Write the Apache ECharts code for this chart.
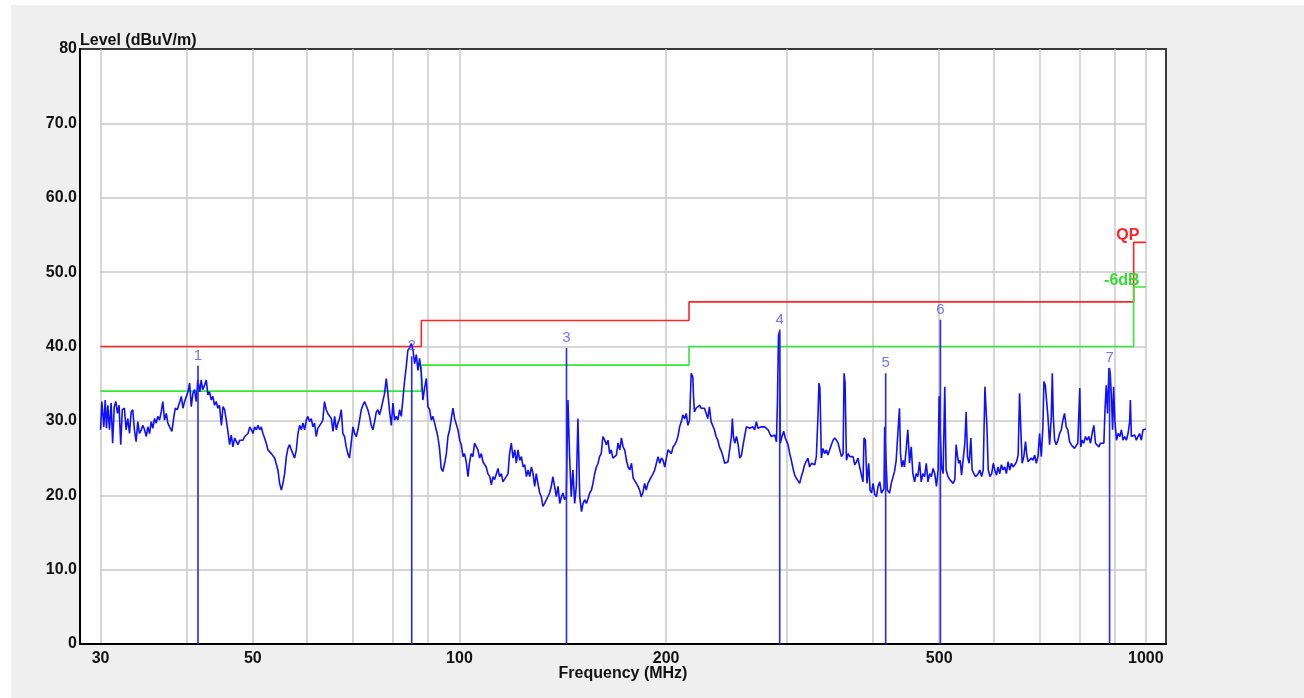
<!DOCTYPE html>
<html>
<head>
<meta charset="utf-8">
<script src="https://cdn.jsdelivr.net/npm/echarts@6/dist/echarts.min.js"></script>
<style>
html, body { margin: 0; padding: 0; background: #ffffff; }
#emiChart {
	position: absolute;
	left: 11px;
	top: 5px;
	width: 1293px;
	height: 693px;
	background: #efefef;
}
</style>
</head>
<body>
<div id="emiChart"></div>
<script>
// axis ticks
const gridFreq = [30, 40, 50, 60, 70, 80, 90, 100, 200, 300, 400, 500, 600, 700, 800, 900, 1000]
const labelFreq = [30, 50, 100, 200, 500, 1000]
const gridLevel = [10, 20, 30, 40, 50, 60, 70]

// limit lines (QP and QP - 6 dB)
const limitFreq = [30, 88, 88, 216, 216, 960, 960, 1000]
const qpLimit = [40, 40, 43.5, 43.5, 46, 46, 54, 54]
const marginLimit = [34, 34, 37.5, 37.5, 40, 40, 48, 48]

// markers
const markerFreq = [41.6, 85.2, 143.2, 292.8, 417.8, 502.0, 885.5]
const markerLevel = [37.4, 38.7, 39.8, 42.3, 36.4, 43.6, 37.1]
const markerName = ["1", "2", "3", "4", "5", "6", "7"]

// measured trace
const traceFreq = [
	30.0, 30.13, 30.33, 30.47, 30.6, 30.74, 30.91, 31.08, 31.24, 31.41, 31.58, 31.75, 31.92, 32.1, 32.27, 32.5,
	32.68, 32.87, 33.06, 33.24, 33.42, 33.61, 33.8, 33.99, 34.18, 34.38, 34.57, 34.77, 34.98, 35.15, 35.36, 35.56,
	35.75, 35.95, 36.16, 36.35, 36.56, 36.77, 36.97, 37.18, 37.4, 37.6, 37.82, 38.11, 38.37, 38.55, 38.81, 38.98,
	39.15, 39.33, 39.55, 39.77, 40.0, 40.22, 40.44, 40.67, 40.89, 41.12, 41.35, 41.57, 41.67, 41.85, 42.04, 42.26,
	42.53, 42.77, 43.0, 43.24, 43.49, 43.72, 43.97, 44.22, 44.45, 44.7, 45.0, 45.23, 45.48, 45.74, 45.99, 46.25,
	46.51, 46.77, 47.04, 47.31, 47.56, 47.84, 48.11, 48.37, 48.65, 48.93, 49.2, 49.48, 49.77, 50.02, 50.3, 50.59,
	50.87, 51.15, 51.44, 51.72, 52.01, 52.3, 52.6, 52.9, 53.2, 53.49, 53.79, 54.09, 54.39, 54.7, 55.02, 55.31,
	55.63, 55.95, 56.25, 56.57, 56.89, 57.2, 57.52, 57.85, 58.17, 58.5, 58.83, 59.15, 59.48, 59.82, 60.14, 60.48,
	60.83, 61.16, 61.5, 61.85, 62.18, 62.53, 62.89, 63.23, 63.59, 63.95, 64.3, 64.66, 65.07, 65.42, 65.79, 66.16,
	66.52, 66.89, 67.27, 67.63, 68.01, 68.39, 68.76, 69.15, 69.54, 69.96,
	70.35, 70.75, 71.13, 71.53, 71.94, 72.32, 72.73, 73.15, 73.54, 73.96, 74.38, 74.8, 75.23, 75.66, 76.06, 76.49,
	76.93, 77.35, 77.79, 78.23, 78.66, 79.11, 79.56, 80.0, 80.46, 80.91, 81.34, 81.8, 82.27, 82.7, 83.17, 83.65,
	84.11, 84.6, 85.09, 85.56, 86.04, 86.53, 87.0, 87.49, 87.99, 88.46, 88.96, 89.47, 89.97, 90.48, 90.99, 91.48,
	92.0, 92.51, 93.0, 93.53, 94.06, 94.57, 95.16, 95.7, 96.22, 96.76, 97.3, 97.84, 98.39, 98.95, 99.5, 100.07,
	100.6, 101.2, 101.7, 102.3, 102.9, 103.4, 104.0, 104.6, 105.2, 105.8, 106.4, 107.0, 107.6, 108.2, 108.8, 109.4,
	110.0, 110.7, 111.3, 111.9, 112.5, 113.2, 113.8, 114.4, 115.1, 115.7, 116.4, 117.0, 117.7, 118.3, 119.0, 119.7,
	120.4, 121.0, 121.7, 122.4, 123.1, 123.8, 124.5, 125.2, 125.9, 126.6, 127.3, 128.0, 128.7, 129.4, 130.1, 130.9,
	131.6, 132.3, 133.1, 133.8, 134.5, 135.3, 136.1, 136.8, 137.6, 138.4, 139.2, 140.0, 140.8, 141.5, 142.3, 143.1,
	143.9, 144.7, 145.5, 146.3, 147.2, 148.0, 148.8, 149.7, 150.6, 151.4, 152.2, 153.1, 154.0, 154.8, 155.7, 156.5,
	157.4, 158.3, 159.2, 160.0, 160.9, 161.8, 162.8, 163.7, 164.6, 165.5, 166.4, 167.3,
	168.3, 169.3, 170.2, 171.2, 172.2, 173.1, 174.1, 175.1, 176.1, 177.1, 178.1, 179.1, 180.0, 181.0, 182.0, 183.0,
	184.0, 185.0, 186.1, 187.1, 188.2, 189.3, 190.4, 191.5, 192.5, 193.6, 194.7, 195.8, 196.9, 198.0, 199.1, 200.2,
	201.3, 202.4, 203.6, 204.7, 205.9, 207.0, 208.1, 209.3, 210.5, 211.6, 212.8, 214.0, 215.2, 216.4, 217.6, 218.8,
	219.3, 220.0, 221.2, 222.4, 223.7, 225.0, 226.2, 227.5, 228.8, 230.0, 231.3, 232.6, 233.9, 235.2, 236.5, 237.9,
	239.2, 240.8, 242.1, 243.5, 244.9, 246.2, 247.6, 249.0, 249.8, 250.7, 251.8, 253.3, 254.7, 256.1, 257.6, 259.0,
	260.3, 261.8, 263.3, 264.7, 266.2, 267.7, 269.2, 270.7, 272.2, 273.8, 275.3, 276.8, 278.4, 280.1, 281.6, 283.2,
	284.8, 286.3, 288.0, 289.6, 290.6, 291.6, 292.6, 293.4, 295.0, 296.7, 298.3,
	299.5, 301.1, 302.8, 304.5, 306.2, 307.9, 309.6, 311.3, 313.1, 314.8, 316.5, 318.3, 320.1, 321.9, 323.7, 325.7,
	327.4, 329.3, 331.1, 332.9, 334.0, 335.1, 336.7, 338.5, 340.4, 342.4, 344.2, 346.2, 348.2, 350.2, 352.2, 354.2,
	356.2, 358.2, 360.2, 362.2, 363.4, 364.6, 366.3, 368.3, 370.4, 372.5, 374.5, 376.6, 378.8, 380.8, 382.9, 385.1,
	387.2, 388.5, 390.3, 392.4, 394.7, 396.5, 398.4, 400.5, 402.8,
	405.1, 407.3, 409.6, 411.9, 414.1, 415.5, 416.4, 417.8, 419.2, 420.1, 421.0, 423.3, 425.7, 428.0, 430.4, 432.8,
	435.2, 437.6, 439.1, 441.0, 443.0, 445.0, 447.5, 450.0, 452.6, 455.2, 457.7, 460.3, 462.9, 465.4, 468.1, 470.7,
	473.4, 476.1, 478.8, 481.5, 484.3, 487.0, 489.8, 492.6, 495.4, 498.2, 499.8, 501.5, 503.9, 506.6, 509.4, 511.7,
	515.1, 518.0, 521.0, 523.9, 526.9, 529.2, 531.7, 534.0, 536.4, 538.9, 541.8, 544.9, 547.3, 549.8, 552.8, 556.0,
	558.4, 561.6, 564.8, 567.3, 569.8, 573.1, 576.4, 579.5, 582.9, 585.4, 586.8, 589.4, 592.8, 596.2, 599.4, 602.4,
	605.9, 609.1, 612.6, 616.0, 619.4, 622.9, 626.4, 629.9, 633.5, 637.1, 640.6, 644.2, 648.0, 651.6, 654.7, 657.5,
	660.4, 664.2, 667.9, 670.8, 673.8, 677.5, 681.3, 685.0, 688.8, 692.6, 696.4, 700.2, 704.2, 708.0, 710.4, 713.7,
	717.5, 720.0, 724.1, 728.2, 730.7, 733.1, 736.4, 740.5, 744.6, 748.8, 753.0, 757.1, 761.3, 765.6, 769.8, 774.2,
	778.5, 782.7, 787.2, 791.6, 795.9, 801.3, 804.0, 807.5, 812.1, 816.7, 821.2, 825.9, 830.6, 835.1, 839.9, 844.7,
	849.1, 854.2, 859.1, 863.8, 868.7, 871.6, 875.5, 879.6, 883.5, 887.4, 891.5, 894.5, 897.6, 901.2, 906.4, 911.2,
	916.4, 921.5, 926.4, 931.7, 936.9, 942.0, 947.3, 949.5, 952.6, 957.8, 963.3, 968.8, 974.0, 979.5, 985.0, 990.5,
	996.1, 1000,
]
const traceLevel = [
	28.8, 32.6, 29.2, 32.8, 29.0, 32.1, 28.8, 32.4, 27.0, 31.9, 32.6, 31.0, 32.1, 26.8, 31.5, 31.7,
	28.8, 30.3, 28.3, 31.2, 31.5, 28.8, 27.2, 29.9, 28.3, 28.8, 29.4, 28.8, 27.9, 29.2, 28.3, 29.9,
	29.0, 30.3, 29.7, 30.6, 30.1, 31.2, 32.6, 30.1, 31.0, 29.7, 29.2, 28.6, 30.6, 31.7, 31.5, 32.1,
	32.6, 33.3, 31.7, 32.6, 32.8, 33.9, 35.1, 31.9, 33.7, 34.2, 32.6, 35.5, 35.3, 33.9, 35.5, 34.2,
	34.8, 35.5, 33.5, 33.9, 32.8, 33.3, 32.1, 32.6, 31.7, 32.1, 29.4, 31.9, 31.5, 30.1, 28.6, 26.8,
	28.1, 26.5, 27.7, 27.2, 26.8, 27.4, 27.2, 27.4, 27.9, 27.7, 28.3, 29.2, 28.8, 28.3, 29.2, 28.8,
	29.4, 28.8, 29.2, 28.3, 27.7, 27.0, 26.1, 26.3, 25.6, 25.4, 25.0, 25.2, 23.4, 21.6, 20.7, 21.6,
	22.9, 25.2, 26.3, 26.8, 26.1, 26.3, 25.0, 26.1, 28.3, 29.4, 28.8, 29.7, 28.8, 30.1, 30.6, 29.9,
	30.3, 29.2, 29.7, 27.9, 29.0, 28.8, 29.7, 30.1, 32.6, 31.5, 31.0, 31.2, 30.3, 28.6, 30.6, 28.8,
	29.7, 30.3, 31.5, 28.3, 27.9, 26.5, 25.6, 25.0, 27.0, 29.2,
	28.3, 27.9, 28.8, 30.1, 31.5, 32.1, 32.6, 32.4, 31.5, 30.6, 29.4, 28.8, 29.9, 31.2, 31.5, 30.8,
	31.7, 31.9, 33.7, 35.7, 33.7, 31.2, 29.4, 32.4, 30.1, 30.6, 30.1, 31.5, 30.6, 32.8, 35.3, 37.3,
	39.5, 39.8, 40.4, 39.5, 37.7, 38.9, 36.8, 38.4, 36.4, 32.8, 34.4, 35.7, 31.9, 31.5, 30.1, 30.6,
	29.7, 28.8, 27.9, 26.3, 23.6, 23.2, 24.3, 25.6, 27.9, 28.8, 30.3, 31.7, 30.3, 30.1, 28.8, 27.4,
	26.8, 25.2, 25.6, 24.5, 22.5, 24.3, 25.6, 25.2, 27.0, 27.2, 26.1, 25.0, 25.6, 24.5, 24.3, 23.8,
	22.9, 22.5, 21.4, 22.5, 22.1, 22.9, 23.6, 22.5, 22.9, 21.8, 21.6, 22.5, 22.9, 25.6, 27.0, 25.0,
	26.1, 24.3, 26.1, 24.7, 25.2, 23.8, 24.1, 22.5, 23.4, 22.5, 23.8, 22.9, 21.2, 22.9, 21.6, 20.3,
	19.8, 18.5, 18.9, 19.1, 19.8, 20.3, 21.2, 22.5, 21.2, 19.8, 21.2, 18.9, 19.8, 20.3, 19.4, 19.8,
	32.8, 25.2, 19.8, 23.4, 18.9, 21.2, 30.3, 19.8, 17.8, 18.9, 19.4, 18.9, 19.6, 20.3, 20.7, 21.6,
	22.9, 23.8, 24.3, 25.2, 25.6, 27.9, 27.4, 26.8, 27.4, 25.6, 26.1, 25.0,
	25.0, 25.4, 27.0, 26.1, 27.7, 26.5, 26.1, 24.7, 23.8, 23.4, 24.3, 22.3, 22.5, 21.6, 21.2, 20.7,
	19.8, 20.3, 21.6, 20.7, 21.6, 21.4, 22.5, 22.9, 23.4, 23.2, 25.2, 24.3, 25.0, 24.7, 23.8, 25.0,
	26.1, 26.3, 25.6, 26.5, 26.8, 27.2, 27.9, 29.2, 29.9, 30.8, 30.3, 31.0, 29.4, 30.1, 36.4, 35.9,
	33.3, 31.2, 31.7, 31.7, 32.1, 31.7, 31.9, 31.7, 31.0, 30.3, 31.9, 29.9, 30.1, 28.8, 27.9, 27.4,
	26.5, 25.9, 25.2, 24.3, 24.1, 24.5, 24.3, 27.9, 30.3, 27.9, 27.0, 27.9, 26.8, 25.0, 25.4, 26.8,
	27.9, 29.2, 29.4, 29.0, 28.8, 29.2, 28.8, 29.9, 29.0, 28.8, 29.2, 29.4, 29.2, 29.0, 28.8, 28.3,
	27.9, 27.7, 28.1, 27.2, 32.6, 41.5, 42.0, 27.0, 27.9, 28.6, 27.7,
	27.9, 26.8, 25.6, 24.7, 23.6, 22.7, 22.3, 22.5, 21.6, 22.5, 23.2, 24.1, 24.3, 25.0, 23.8, 24.3,
	24.5, 24.1, 25.2, 30.6, 35.1, 34.4, 25.0, 26.3, 25.6, 26.1, 25.4, 25.2, 26.8, 27.4, 27.7, 27.4,
	27.0, 26.8, 25.2, 25.6, 36.4, 35.1, 24.7, 25.6, 25.2, 25.4, 25.2, 24.1, 24.5, 25.0, 23.8, 23.8,
	21.8, 27.7, 27.4, 21.6, 24.3, 20.7, 20.3, 21.6, 20.1,
	19.8, 21.2, 21.8, 20.3, 20.5, 20.9, 29.2, 29.2, 29.2, 20.7, 20.5, 20.3, 21.6, 21.8, 23.2, 24.7,
	28.3, 31.7, 25.6, 23.8, 24.7, 23.8, 26.1, 28.8, 24.3, 26.5, 22.9, 21.8, 22.9, 22.5, 24.5, 21.8,
	22.9, 22.5, 24.3, 21.8, 22.9, 22.5, 23.6, 22.9, 21.2, 23.4, 33.3, 33.3, 23.8, 22.9, 34.6, 23.4,
	22.5, 22.1, 22.3, 21.6, 22.1, 26.8, 25.2, 24.3, 24.7, 22.7, 22.5, 27.0, 31.2, 25.2, 24.3, 27.7,
	23.4, 22.9, 22.5, 22.3, 22.9, 23.4, 22.5, 23.4, 34.6, 34.6, 29.2, 23.4, 22.5, 22.9, 24.3, 23.4,
	22.7, 23.8, 22.9, 24.1, 23.4, 23.8, 22.9, 24.5, 23.4, 24.3, 23.8, 24.1, 24.5, 25.4, 33.7, 28.8,
	24.3, 25.2, 27.2, 25.4, 24.5, 24.3, 25.0, 24.7, 25.4, 24.3, 25.2, 28.3, 25.2, 29.2, 35.3, 34.8,
	34.6, 30.6, 26.8, 30.6, 36.4, 30.6, 27.4, 26.8, 27.4, 28.3, 28.8, 30.1, 31.0, 29.2, 28.8, 27.2,
	26.8, 27.0, 26.3, 26.1, 27.0, 34.4, 26.5, 27.4, 27.0, 27.9, 27.4, 27.9, 27.0, 28.3, 29.4, 27.0,
	26.8, 26.5, 27.0, 26.8, 27.0, 31.0, 34.8, 31.0, 37.1, 36.4, 32.8, 28.8, 34.6, 30.1, 27.4, 28.3,
	27.9, 28.8, 27.4, 27.9, 27.4, 28.3, 29.9, 32.8, 27.9, 27.7, 28.1, 27.4, 27.9, 28.3, 27.4, 28.8,
	29.0, 28.9,
]

const fontFamily = "'Liberation Sans', Arial, sans-serif"
const zip = (xs, ys) => xs.map((x, i) => [x, ys[i]])

let markerLines = []
markerFreq.forEach((f, i) => {
	markerLines.push([f, 0], [f, markerLevel[i]], [f, "-"])
})

let myCharts = echarts.init(document.getElementById("emiChart"))
let option = {
	animation: false,
	grid: {
		left: 69,
		right: 138,
		top: 44,
		bottom: 54,
		show: true,
		backgroundColor: "#ffffff",
		borderColor: "#3a3a3a",
		borderWidth: 2,
	},
	xAxis: {
		type: "log",
		logBase: 10,
		min: 28,
		max: 1070,
		name: "Frequency (MHz)",
		nameLocation: "middle",
		nameGap: 22,
		nameMoveOverlap: false,
		nameTextStyle: { fontFamily, fontSize: 16, fontWeight: "bold", color: "#111" },
		axisLine: { show: true, lineStyle: { color: "#000", width: 2 } },
		axisTick: { show: false, customValues: gridFreq },
		axisLabel: {
			customValues: labelFreq,
			formatter: (v) => String(Math.round(v)),
			fontFamily,
			fontSize: 16,
			fontWeight: "bold",
			color: "#111",
			margin: 7,
		},
		splitLine: { show: true, lineStyle: { color: "#c8c8c8", width: 1.5 } },
	},
	yAxis: {
		type: "value",
		min: 0,
		max: 80,
		interval: 10,
		name: "Level (dBuV/m)",
		nameLocation: "end",
		nameGap: 0,
		nameMoveOverlap: false,
		nameTextStyle: {
			fontFamily,
			fontSize: 16,
			fontWeight: "bold",
			color: "#111",
			align: "left",
			verticalAlign: "bottom",
		},
		axisLine: { show: true, lineStyle: { color: "#000", width: 2 } },
		axisTick: { show: false },
		splitLine: { show: false },
		axisLabel: {
			formatter: (v) => (v === 0 || v === 80 ? String(v) : v.toFixed(1)),
			fontFamily,
			fontSize: 16,
			fontWeight: "bold",
			color: "#111",
			margin: 3,
		},
	},
	series: [
		{
			// horizontal grid, only between 30 and 1000 MHz
			type: "line",
			data: [],
			z: 0,
			silent: true,
			markLine: {
				silent: true,
				z: 0,
				symbol: ["none", "none"],
				label: { show: false },
				lineStyle: { color: "#c8c8c8", width: 1.5, type: "solid" },
				data: gridLevel.map((v) => [{ coord: [30, v] }, { coord: [1000, v] }]),
			},
		},
		{
			name: "QP",
			type: "line",
			data: zip(limitFreq, qpLimit),
			showSymbol: false,
			z: 3,
			lineStyle: { color: "#ff2424", width: 1.6 },
			itemStyle: { color: "#ff2424" },
			markPoint: {
				symbol: "circle",
				symbolSize: 1,
				itemStyle: { color: "transparent" },
				label: {
					show: true,
					position: "top",
					distance: 1,
					offset: [-18, 3],
					formatter: "QP",
					fontFamily,
					fontSize: 16,
					fontWeight: "bold",
					color: "#ff2424",
				},
				data: [{ coord: [1000, 54] }],
			},
		},
		{
			name: "-6dB",
			type: "line",
			data: zip(limitFreq, marginLimit),
			showSymbol: false,
			z: 3,
			lineStyle: { color: "#33e833", width: 1.6 },
			itemStyle: { color: "#33e833" },
			markPoint: {
				symbol: "circle",
				symbolSize: 1,
				itemStyle: { color: "transparent" },
				label: {
					show: true,
					position: "top",
					distance: 1,
					offset: [-24, 3],
					formatter: "-6dB",
					fontFamily,
					fontSize: 16,
					fontWeight: "bold",
					color: "#33dd33",
				},
				data: [{ coord: [1000, 48] }],
			},
		},
		{
			name: "trace",
			type: "line",
			data: zip(traceFreq, traceLevel),
			showSymbol: false,
			z: 4,
			lineStyle: { color: "#0f0fff", width: 1.6 },
			itemStyle: { color: "#0f0fff" },
		},
		{
			name: "markers",
			type: "line",
			data: markerLines,
			showSymbol: false,
			connectNulls: false,
			z: 5,
			lineStyle: { color: "#2424ff", width: 1.6 },
			itemStyle: { color: "#2424ff" },
		},
		{
			name: "marker labels",
			type: "scatter",
			symbolSize: 1,
			z: 6,
			itemStyle: { color: "transparent" },
			label: {
				show: true,
				position: "top",
				distance: 2,
				formatter: "{b}",
				fontFamily,
				fontSize: 15,
				color: "#5050ff",
			},
			data: markerFreq.map((f, i) => ({ name: markerName[i], value: [f, markerLevel[i]] })),
		},
	],
}
myCharts.setOption(option)
</script>
</body>
</html>
